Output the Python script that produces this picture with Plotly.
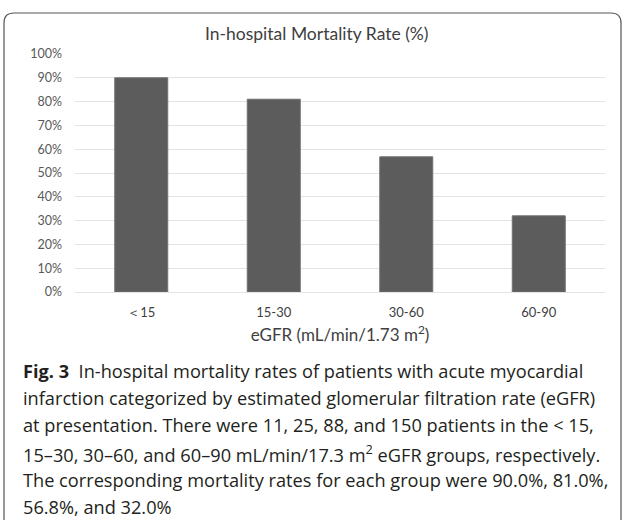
import plotly.graph_objects as go

categories = ["＜15", "15-30", "30-60", "60-90"]
mortality = [0.90, 0.81, 0.568, 0.32]
y_ticks = [i / 10 for i in range(11)]
y_tick_labels = [f"{i*10}%" for i in range(11)]

chart_title = "In-hospital Mortality Rate (%)"
x_title = "eGFR (mL/min/1.73 m<sup>2</sup>)"
caption_lines = [
    "<b>Fig. 3</b>  In-hospital mortality rates of patients with acute myocardial",
    "infarction categorized by estimated glomerular filtration rate (eGFR)",
    "at presentation. There were 11, 25, 88, and 150 patients in the < 15,",
    "15–30, 30–60, and 60–90 mL/min/17.3 m<sup>2</sup> eGFR groups, respectively.",
    "The corresponding mortality rates for each group were 90.0%, 81.0%,",
    "56.8%, and 32.0%",
]

W, H = 625, 520
L, R, T, B = 75, 605, 54, 292

def px_x(px):
    return (px - L) / (R - L)

def px_y(py):
    return (B - py) / (B - T)

fig = go.Figure(go.Bar(
    x=categories, y=mortality,
    marker=dict(color="#5c5c5c", line=dict(color="#707070", width=1)),
    width=0.4,
))

chart_font = "Lato"
fig.update_layout(
    width=W, height=H,
    margin=dict(l=L, r=W - R, t=T, b=H - B, pad=0),
    paper_bgcolor="white", plot_bgcolor="white",
    showlegend=False,
    font=dict(family=chart_font, color="#595959", size=12),
)
fig.update_yaxes(
    range=[0, 1], tickvals=y_ticks, ticktext=y_tick_labels,
    showgrid=True, gridcolor="#e3e3e3", gridwidth=1,
    zeroline=False, showline=False, ticks="", ticklabelstandoff=12,
    tickfont=dict(size=12.5, color="#595959"),
)
fig.update_xaxes(
    showline=True, linecolor="#e3e3e3", linewidth=1, ticks="",
    ticklabelstandoff=8,
    tickfont=dict(size=13, color="#404040"),
    title=dict(text=x_title, standoff=10,
               font=dict(size=17, color="#404040")),
)

annotations = [
    dict(text=chart_title, x=px_x(317), y=px_y(33),
         xref="paper", yref="paper", showarrow=False,
         font=dict(size=17.5, color="#404040", family=chart_font),
         xanchor="center", yanchor="middle"),
]
cap_y = [371, 398, 425, 453, 480, 507]
for line, cy in zip(caption_lines, cap_y):
    annotations.append(dict(
        text=line, x=px_x(21), y=px_y(cy), xref="paper", yref="paper",
        showarrow=False, xanchor="left", yanchor="middle", align="left",
        font=dict(size=18.2, color="#231f20", family="Open Sans"),
    ))
fig.update_layout(annotations=annotations)

# rounded frame
left, top, right, bottom, r = 4, 13, 621, 530, 10
path = (f"M {px_x(left)},{px_y(bottom)} L {px_x(left)},{px_y(top + r)} "
        f"Q {px_x(left)},{px_y(top)} {px_x(left + r)},{px_y(top)} "
        f"L {px_x(right - r)},{px_y(top)} "
        f"Q {px_x(right)},{px_y(top)} {px_x(right)},{px_y(top + r)} "
        f"L {px_x(right)},{px_y(bottom)}")
fig.add_shape(type="path", path=path, xref="paper", yref="paper",
              line=dict(color="#555555", width=1.2), layer="above")

fig.write_html("out.html", config={"displayModeBar": False},
               post_script="document.body.style.margin='0';document.body.style.overflow='hidden';")
